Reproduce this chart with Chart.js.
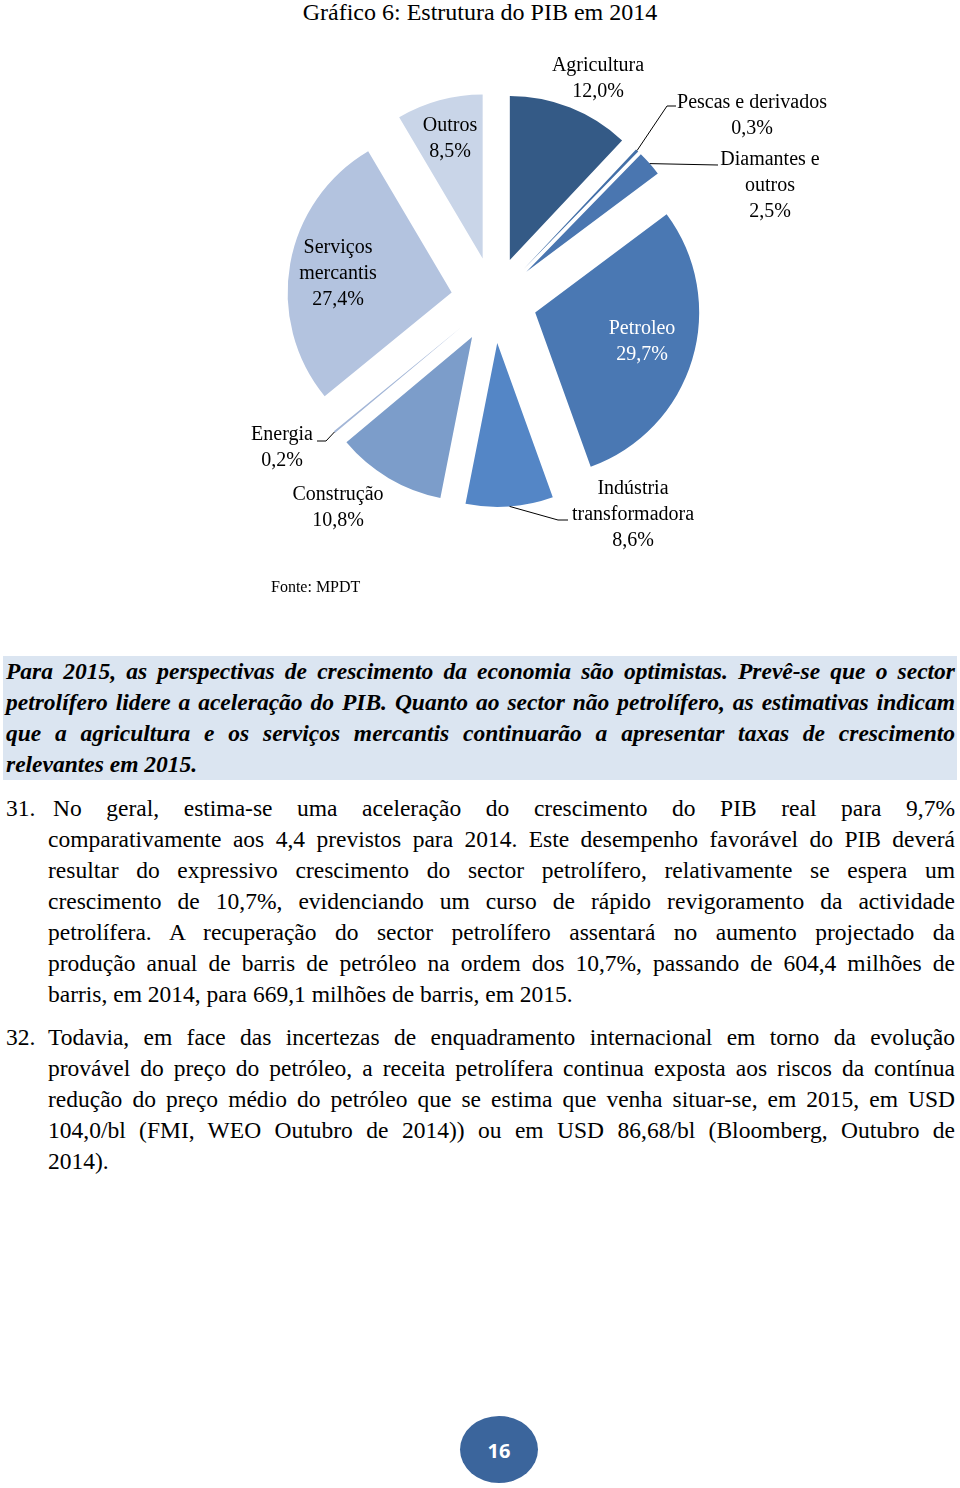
<!DOCTYPE html>
<html lang="pt">
<head>
<meta charset="utf-8">
<title>Gráfico 6: Estrutura do PIB em 2014</title>
<script src="https://cdn.jsdelivr.net/npm/chart.js@4.4.1/dist/chart.umd.min.js"></script>
<style>
  html, body { margin:0; padding:0; background:#fff; }
  body { width:960px; height:1488px; position:relative; overflow:hidden;
         font-family:'Liberation Serif', serif; color:#000; }
  #title { position:absolute; top:0; left:0; width:960px; text-align:center;
           font-size:24px; line-height:24px; }
  #pie { position:absolute; left:94px; top:0; }
  #fonte { position:absolute; left:271px; top:577px; font-size:16px; line-height:20px; }
  #box { position:absolute; left:3px; top:656px; width:949px; height:124px;
         padding:0 2px 0 3px; background:#dbe5f1;
         font-style:italic; font-weight:bold; font-size:23.5px; line-height:31px; }
  .ln { display:block; text-align:justify; text-align-last:justify; }
  .ln.end { text-align-last:left; }
  .para { position:absolute; left:48px; width:907px; font-size:23.5px; line-height:31px; }
  .num { position:absolute; left:-42px; top:0; }
  #page { position:absolute; left:460px; top:1416px; width:78px; height:67px; border-radius:50%;
          background:#3b659c; color:#fff; font:bold 20px 'Open Sans', sans-serif;
          text-align:center; line-height:69px; }
</style>
</head>
<body>
<div id="title">Gráfico 6: Estrutura do PIB em 2014</div>
<canvas id="pie" width="800" height="600"></canvas>
<div id="fonte">Fonte: MPDT</div>

<div id="box">
  <span class="ln">Para 2015, as perspectivas de crescimento da economia são optimistas. Prevê-se que o sector</span>
  <span class="ln">petrolífero lidere a aceleração do PIB. Quanto ao sector não petrolífero, as estimativas indicam</span>
  <span class="ln">que a agricultura e os serviços mercantis continuarão a apresentar taxas de crescimento</span>
  <span class="ln end">relevantes em 2015.</span>
</div>

<div class="para" style="top:793px">
  <span class="num">31.</span>
  <span class="ln" style="padding-left:5px">No geral, estima-se uma aceleração do crescimento do PIB real para 9,7%</span>
  <span class="ln">comparativamente aos 4,4 previstos para 2014. Este desempenho favorável do PIB deverá</span>
  <span class="ln">resultar do expressivo crescimento do sector petrolífero, relativamente se espera um</span>
  <span class="ln">crescimento de 10,7%, evidenciando um curso de rápido revigoramento da actividade</span>
  <span class="ln">petrolífera. A recuperação do sector petrolífero assentará no aumento projectado da</span>
  <span class="ln">produção anual de barris de petróleo na ordem dos 10,7%, passando de 604,4 milhões de</span>
  <span class="ln end">barris, em 2014, para 669,1 milhões de barris, em 2015.</span>
</div>

<div class="para" style="top:1022px">
  <span class="num">32.</span>
  <span class="ln">Todavia, em face das incertezas de enquadramento internacional em torno da evolução</span>
  <span class="ln">provável do preço do petróleo, a receita petrolífera continua exposta aos riscos da contínua</span>
  <span class="ln">redução do preço médio do petróleo que se estima que venha situar-se, em 2015, em USD</span>
  <span class="ln">104,0/bl (FMI, WEO Outubro de 2014)) ou em USD 86,68/bl (Bloomberg, Outubro de</span>
  <span class="ln end">2014).</span>
</div>

<div id="page">16</div>

<script>
'use strict';

// ---- Dados ----
const categories = ['Agricultura', 'Pescas e derivados', 'Diamantes e outros', 'Petroleo',
  'Indústria transformadora', 'Construção', 'Energia', 'Serviços mercantis', 'Outros'];
const shares = [12.0, 0.3, 2.5, 29.7, 8.6, 10.8, 0.2, 27.4, 8.5];
const sliceColors = ['#345a86', '#4470a8', '#4a76b0', '#4a78b3', '#5486c6',
  '#7c9dca', '#a3b6d7', '#b3c3df', '#c9d5e8'];

// ---- Étiquettes (relatives au centre du camembert) ----
// dx,dy = centre de la 1re ligne ; wrap = nb de mots sur la 1re ligne ; lead = coude + fin du trait
const labelLayout = [
  { dx: 104,  dy: -234 },
  { dx: 258,  dy: -197, lead: [[173, -194], [182, -194]] },
  { dx: 276,  dy: -140, wrap: 2, lead: [[224, -135]] },
  { dx: 148,  dy: 29,   color: '#fff' },
  { dx: 139,  dy: 189,  wrap: 1, lead: [[64, 220], [74, 220]] },
  { dx: -156, dy: 195 },
  { dx: -212, dy: 135,  lead: [[-168, 141], [-177, 141]] },
  { dx: -156, dy: -52,  wrap: 1 },
  { dx: -44,  dy: -174 }
];

const EXPLODE = 43;   // déplacement radial de chaque part, px
const PIE_R = 164;
const LINE_H = 26;

// l'option "offset" de Chart.js rétrécit les petites parts : on décale nous-mêmes
const explode = {
  id: 'explode',
  beforeDatasetDraw(chart, args) {
    const ctx = chart.ctx;
    args.meta.data.forEach(a => {
      const mid = (a.startAngle + a.endAngle) / 2;
      ctx.save();
      ctx.translate(Math.cos(mid) * EXPLODE, Math.sin(mid) * EXPLODE);
      a.draw(ctx, chart.chartArea);
      ctx.restore();
    });
    return false;
  }
};

const sliceLabels = {
  id: 'sliceLabels',
  afterDatasetsDraw(chart) {
    const ctx = chart.ctx;
    const meta = chart.getDatasetMeta(0);
    const R = meta.controller.outerRadius;
    ctx.save();
    ctx.font = '20px "Liberation Serif"';
    ctx.textAlign = 'center';
    ctx.textBaseline = 'middle';
    meta.data.forEach((a, i) => {
      const L = labelLayout[i];
      const cx = a.x, cy = a.y;
      if (L.lead) {
        const mid = (a.startAngle + a.endAngle) / 2;
        const r = EXPLODE + R;
        ctx.beginPath();
        ctx.moveTo(cx + Math.cos(mid) * r, cy + Math.sin(mid) * r);
        L.lead.forEach(p => ctx.lineTo(cx + p[0], cy + p[1]));
        ctx.strokeStyle = '#000';
        ctx.lineWidth = 1;
        ctx.stroke();
      }
      const words = categories[i].split(' ');
      const lines = L.wrap
        ? [words.slice(0, L.wrap).join(' '), words.slice(L.wrap).join(' ')]
        : [categories[i]];
      lines.push(shares[i].toFixed(1).replace('.', ',') + '%');
      ctx.fillStyle = L.color || '#000';
      lines.forEach((t, k) => ctx.fillText(t, cx + L.dx, cy + L.dy + k * LINE_H));
    });
    ctx.restore();
  }
};

new Chart(document.getElementById('pie').getContext('2d'), {
  type: 'pie',
  data: {
    labels: categories,
    datasets: [{ data: shares, backgroundColor: sliceColors, borderWidth: 0 }]
  },
  options: {
    responsive: false, animation: false, events: [],
    radius: PIE_R,
    layout: { padding: 0 },
    plugins: { legend: { display: false }, tooltip: { enabled: false } }
  },
  plugins: [explode, sliceLabels]
});
</script>
</body>
</html>
